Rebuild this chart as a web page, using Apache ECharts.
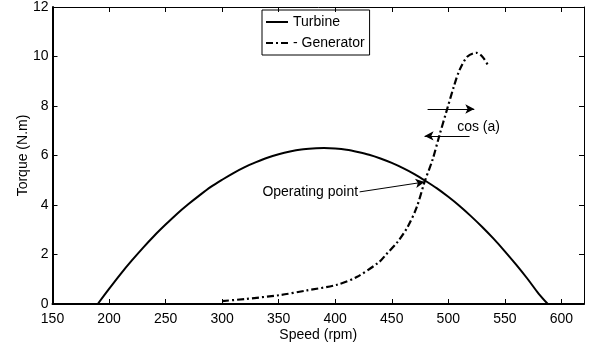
<!DOCTYPE html>
<html>
<head>
<meta charset="utf-8">
<script src="https://cdn.jsdelivr.net/npm/echarts@6/dist/echarts.min.js"></script>
<style>html,body{margin:0;padding:0;background:#fff}#c{width:592px;height:345px}</style>
</head>
<body>
<div id="c"></div>
<script>
// Speed (rpm) and torque (N.m)
const turbineSpeed = [190,200,210,220,230,240,250,260,270,280,290,300,310,320,330,340,350,360,370,380,390,400,410,420,430,440,450,460,470,480,490,500,510,520,530,540,550,560,570,580,588];
const turbineTorque = [0,0.61,1.20,1.75,2.27,2.76,3.21,3.64,4.03,4.39,4.73,5.02,5.29,5.53,5.73,5.91,6.05,6.16,6.24,6.28,6.30,6.28,6.23,6.14,6.03,5.88,5.70,5.49,5.25,4.97,4.67,4.33,3.96,3.55,3.11,2.64,2.13,1.59,1.02,0.41,0];
const generatorSpeed = [300,320,351,375,401,419,439,445,455,464,472,479,486,492,499,505,510,517,525,530,535];
const generatorTorque = [0.12,0.2,0.36,0.55,0.77,1.09,1.7,2.0,2.5,3.11,3.9,4.93,5.82,6.79,7.88,8.8,9.46,10.0,10.15,10.0,9.66];
const seriesNames = ['Turbine', '- Generator'];
const xTicks = {min:150, max:620, step:50};
const yTicks = {min:0, max:12, step:2};
// annotations (data coordinates)
const arrowRight = [[481.7,7.88],[523,7.88]];
const arrowLeft = [[518.8,6.79],[479,6.79]];
const opArrow = [[421.6,4.53],[479,4.93]];
const cosLabel = {text:'cos (a)', at:[507.4,7.16]};
const opLabel = {text:'Operating point', at:[421.6,4.53]};

const zip = (a,b) => a.map((v,i)=>[v,b[i]]);
const FONT = 'Liberation Sans, Arial, Helvetica, sans-serif';
const FS = 14;
const chart = echarts.init(document.getElementById('c'), null, {renderer:'canvas'});

function axisBase(extra){
  return Object.assign({
    type:'value',
    splitLine:{show:false},
    nameMoveOverlap:false,
    axisTick:{show:true, inside:true, length:5, lineStyle:{color:'#000', width:1}},
    nameTextStyle:{color:'#000', fontSize:FS, fontFamily:FONT}
  }, extra);
}

chart.setOption({
  animation:false,
  backgroundColor:'#fff',
  grid:{left:52.5, right:8, top:7, bottom:41, containLabel:false, outerBoundsMode:'none'},
  legend:{
    data:[
      {name:seriesNames[0], icon:'path://M0,0H22V2H0Z'},
      {name:seriesNames[1], icon:'path://M0,0H7V2H0ZM10,0H12V2H10ZM15,0H22V2H15Z'}
    ],
    orient:'vertical', left:262, top:10,
    borderColor:'#000', borderWidth:1, borderRadius:0,
    padding:[5,5,5,4], itemGap:7, itemWidth:22, itemHeight:2,
    itemStyle:{color:'#000', borderWidth:0},
    textStyle:{color:'#000', fontSize:FS, fontFamily:FONT},
    selectedMode:false
  },
  xAxis:[
    axisBase({min:xTicks.min, max:xTicks.max, interval:xTicks.step, position:'bottom',
      name:'Speed (rpm)', nameLocation:'middle', nameGap:24,
      axisLine:{show:true, onZero:false, lineStyle:{color:'#000', width:2}},
      axisLabel:{color:'#000', fontSize:FS, fontFamily:FONT, margin:8, showMaxLabel:false}}),
    axisBase({min:xTicks.min, max:xTicks.max, interval:xTicks.step, position:'top',
      axisLine:{show:true, onZero:false, lineStyle:{color:'#000', width:1}},
      axisLabel:{show:false}})
  ],
  yAxis:[
    axisBase({min:yTicks.min, max:yTicks.max, interval:yTicks.step, position:'left',
      name:'Torque (N.m)', nameLocation:'middle', nameGap:22,
      axisLine:{show:true, onZero:false, lineStyle:{color:'#000', width:2}},
      axisLabel:{color:'#000', fontSize:FS, fontFamily:FONT, margin:4}}),
    axisBase({min:yTicks.min, max:yTicks.max, interval:yTicks.step, position:'right',
      axisLine:{show:true, onZero:false, lineStyle:{color:'#000', width:1}},
      axisLabel:{show:false}})
  ],
  series:[
    {
      name:seriesNames[0], type:'line', data:zip(turbineSpeed, turbineTorque),
      symbol:'none', smooth:0.3, lineStyle:{color:'#000', width:2, type:'solid'},
      itemStyle:{color:'#000'}, silent:true
    },
    {
      name:seriesNames[1], type:'line', data:zip(generatorSpeed, generatorTorque),
      symbol:'none', smooth:0.3, lineStyle:{color:'#000', width:2.2, type:[7,3,2,3]},
      itemStyle:{color:'#000'}, silent:true
    },
    {
      name:'annot', type:'line', data:[], silent:true,
      markLine:{
        silent:true, symbol:['none','arrow'], symbolSize:[7,9],
        lineStyle:{color:'#000', width:1, type:'solid'},
        label:{show:false},
        data:[arrowRight, arrowLeft, opArrow].map(a=>[{coord:a[0]},{coord:a[1]}])
      },
      markPoint:{
        silent:true, symbol:'circle', symbolSize:1,
        itemStyle:{color:'rgba(0,0,0,0)'},
        data:[
          {coord:cosLabel.at, label:{show:true, position:'right', distance:0, formatter:cosLabel.text, color:'#000', fontSize:FS, fontFamily:FONT}},
          {coord:opLabel.at, label:{show:true, position:'left', distance:1, formatter:opLabel.text, color:'#000', fontSize:FS, fontFamily:FONT}}
        ]
      }
    }
  ]
});
</script>
</body>
</html>
